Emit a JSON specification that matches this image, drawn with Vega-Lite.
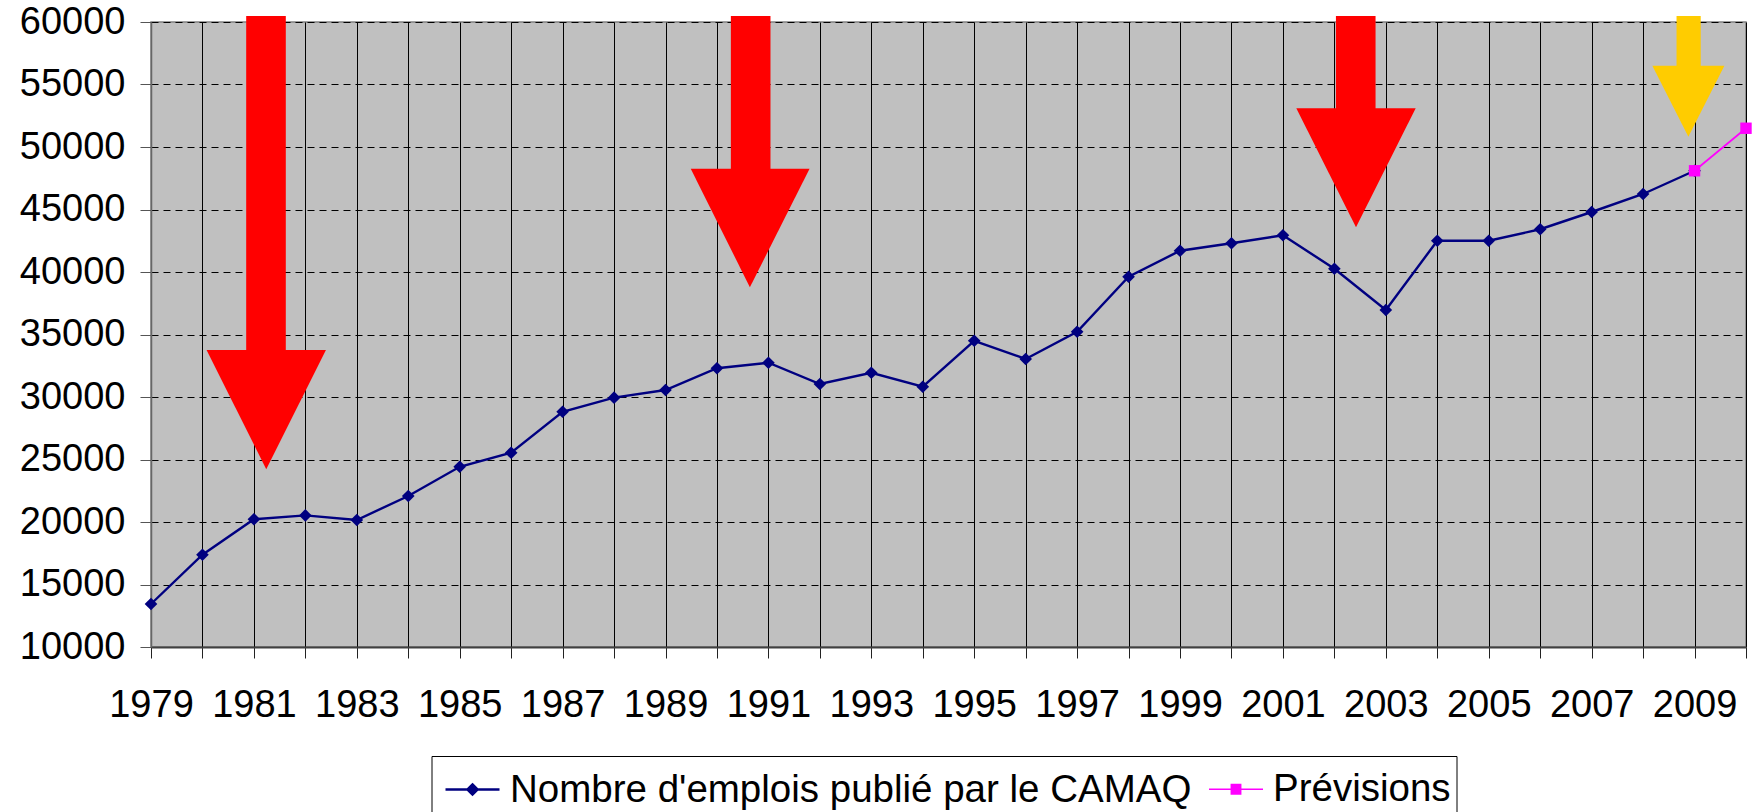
{
  "$schema": "https://vega.github.io/schema/vega-lite/v6.json",
  "width": 1595,
  "height": 625,
  "autosize": {"type": "none"},
  "padding": {"left": 151, "top": 22, "right": 7, "bottom": 165},
  "background": "#FFFFFF",
  "config": {
    "view": {"fill": "#C0C0C0", "stroke": "#808080", "strokeWidth": 1.5},
    "font": "Liberation Sans"
  },
  "datasets": {
    "emplois": [
      {"annee": 1979, "emplois": 13440, "serie": "Nombre d'emplois publié par le CAMAQ"},
      {"annee": 1980, "emplois": 17380, "serie": "Nombre d'emplois publié par le CAMAQ"},
      {"annee": 1981, "emplois": 20220, "serie": "Nombre d'emplois publié par le CAMAQ"},
      {"annee": 1982, "emplois": 20530, "serie": "Nombre d'emplois publié par le CAMAQ"},
      {"annee": 1983, "emplois": 20160, "serie": "Nombre d'emplois publié par le CAMAQ"},
      {"annee": 1984, "emplois": 22080, "serie": "Nombre d'emplois publié par le CAMAQ"},
      {"annee": 1985, "emplois": 24420, "serie": "Nombre d'emplois publié par le CAMAQ"},
      {"annee": 1986, "emplois": 25540, "serie": "Nombre d'emplois publié par le CAMAQ"},
      {"annee": 1987, "emplois": 28820, "serie": "Nombre d'emplois publié par le CAMAQ"},
      {"annee": 1988, "emplois": 29950, "serie": "Nombre d'emplois publié par le CAMAQ"},
      {"annee": 1989, "emplois": 30560, "serie": "Nombre d'emplois publié par le CAMAQ"},
      {"annee": 1990, "emplois": 32300, "serie": "Nombre d'emplois publié par le CAMAQ"},
      {"annee": 1991, "emplois": 32740, "serie": "Nombre d'emplois publié par le CAMAQ"},
      {"annee": 1992, "emplois": 31040, "serie": "Nombre d'emplois publié par le CAMAQ"},
      {"annee": 1993, "emplois": 31940, "serie": "Nombre d'emplois publié par le CAMAQ"},
      {"annee": 1994, "emplois": 30820, "serie": "Nombre d'emplois publié par le CAMAQ"},
      {"annee": 1995, "emplois": 34500, "serie": "Nombre d'emplois publié par le CAMAQ"},
      {"annee": 1996, "emplois": 33040, "serie": "Nombre d'emplois publié par le CAMAQ"},
      {"annee": 1997, "emplois": 35220, "serie": "Nombre d'emplois publié par le CAMAQ"},
      {"annee": 1998, "emplois": 39620, "serie": "Nombre d'emplois publié par le CAMAQ"},
      {"annee": 1999, "emplois": 41700, "serie": "Nombre d'emplois publié par le CAMAQ"},
      {"annee": 2000, "emplois": 42300, "serie": "Nombre d'emplois publié par le CAMAQ"},
      {"annee": 2001, "emplois": 42940, "serie": "Nombre d'emplois publié par le CAMAQ"},
      {"annee": 2002, "emplois": 40260, "serie": "Nombre d'emplois publié par le CAMAQ"},
      {"annee": 2003, "emplois": 36960, "serie": "Nombre d'emplois publié par le CAMAQ"},
      {"annee": 2004, "emplois": 42500, "serie": "Nombre d'emplois publié par le CAMAQ"},
      {"annee": 2005, "emplois": 42500, "serie": "Nombre d'emplois publié par le CAMAQ"},
      {"annee": 2006, "emplois": 43420, "serie": "Nombre d'emplois publié par le CAMAQ"},
      {"annee": 2007, "emplois": 44800, "serie": "Nombre d'emplois publié par le CAMAQ"},
      {"annee": 2008, "emplois": 46240, "serie": "Nombre d'emplois publié par le CAMAQ"},
      {"annee": 2009, "emplois": 48100, "serie": "Nombre d'emplois publié par le CAMAQ"},
      {"annee": 2009, "emplois": 48100, "serie": "Prévisions"},
      {"annee": 2010, "emplois": 51500, "serie": "Prévisions"}
    ],
    "fleches": [
      {"id": "a1", "type": "recession", "gauche": 1980.85, "droite": 1981.62, "haut": 60480, "bas": 33500},
      {"id": "a2", "type": "recession", "gauche": 1990.27, "droite": 1991.04, "haut": 60480, "bas": 48000},
      {"id": "a3", "type": "recession", "gauche": 2002.03, "droite": 2002.80, "haut": 60480, "bas": 52800},
      {"id": "a4", "type": "prevision", "gauche": 2008.65, "droite": 2009.12, "haut": 60480, "bas": 56300}
    ],
    "pointes": [
      {"id": "a1", "type": "recession", "annee": 1980.08, "haut": 33760, "bas": 33760},
      {"id": "a1", "type": "recession", "annee": 1981.24, "haut": 33760, "bas": 24220},
      {"id": "a1", "type": "recession", "annee": 1982.40, "haut": 33760, "bas": 33760},
      {"id": "a2", "type": "recession", "annee": 1989.49, "haut": 48260, "bas": 48260},
      {"id": "a2", "type": "recession", "annee": 1990.64, "haut": 48260, "bas": 38780},
      {"id": "a2", "type": "recession", "annee": 1991.80, "haut": 48260, "bas": 48260},
      {"id": "a3", "type": "recession", "annee": 2001.26, "haut": 53100, "bas": 53100},
      {"id": "a3", "type": "recession", "annee": 2002.42, "haut": 53100, "bas": 43580},
      {"id": "a3", "type": "recession", "annee": 2003.58, "haut": 53100, "bas": 53100},
      {"id": "a4", "type": "prevision", "annee": 2008.18, "haut": 56500, "bas": 56500},
      {"id": "a4", "type": "prevision", "annee": 2008.88, "haut": 56500, "bas": 50820},
      {"id": "a4", "type": "prevision", "annee": 2009.58, "haut": 56500, "bas": 56500}
    ]
  },
  "layer": [
    {
      "data": {"name": "fleches"},
      "mark": {"type": "rect"},
      "encoding": {
        "x": {"field": "gauche", "type": "quantitative", "title": null, "scale": {"domain": [1979, 2010], "nice": false, "zero": false}},
        "x2": {"field": "droite"},
        "y": {"field": "haut", "type": "quantitative", "title": null, "scale": {"domain": [10000, 60000], "nice": false, "zero": false}},
        "y2": {"field": "bas"},
        "fill": {"field": "type", "type": "nominal", "scale": {"domain": ["recession", "prevision"], "range": ["#FF0000", "#FFCC00"]}, "legend": null}
      }
    },
    {
      "data": {"name": "pointes"},
      "mark": {"type": "area", "orient": "vertical", "interpolate": "linear"},
      "encoding": {
        "x": {"field": "annee", "type": "quantitative", "title": null},
        "y": {"field": "haut", "type": "quantitative", "title": null},
        "y2": {"field": "bas"},
        "detail": {"field": "id", "type": "nominal"},
        "fill": {"field": "type", "type": "nominal", "legend": null}
      }
    },
    {
      "data": {"name": "emplois"},
      "mark": {"type": "line"},
      "encoding": {
        "x": {
          "field": "annee", "type": "quantitative", "title": null,
          "axis": {
            "title": null,
            "values": [1979, 1980, 1981, 1982, 1983, 1984, 1985, 1986, 1987, 1988, 1989, 1990, 1991, 1992, 1993, 1994, 1995, 1996, 1997, 1998, 1999, 2000, 2001, 2002, 2003, 2004, 2005, 2006, 2007, 2008, 2009, 2010],
            "format": "d",
            "labelExpr": "datum.value % 2 == 1 ? datum.label : ''",
            "labelOverlap": false, "labelFlush": false, "labelBound": false,
            "labelFont": "Liberation Sans", "labelFontSize": 38, "labelColor": "#000000",
            "labelPadding": 28,
            "tickSize": 11, "tickColor": "#222222", "tickWidth": 1,
            "domainColor": "#404040", "domainWidth": 2,
            "grid": true, "gridColor": "#000000", "gridWidth": 1, "gridOpacity": 1
          }
        },
        "y": {
          "field": "emplois", "type": "quantitative", "title": null,
          "axis": {
            "title": null,
            "values": [10000, 15000, 20000, 25000, 30000, 35000, 40000, 45000, 50000, 55000, 60000],
            "format": "d",
            "labelOverlap": false, "labelFlush": false, "labelBound": false,
            "labelFont": "Liberation Sans", "labelFontSize": 38, "labelColor": "#000000",
            "labelPadding": 15,
            "tickSize": 11, "tickColor": "#555555", "tickWidth": 1,
            "domainColor": "#666666", "domainWidth": 1.5,
            "grid": true, "gridColor": "#000000", "gridWidth": 1, "gridOpacity": 1, "gridDash": [7, 5]
          }
        },
        "color": {
          "field": "serie", "type": "nominal", "title": null,
          "scale": {"domain": ["Nombre d'emplois publié par le CAMAQ", "Prévisions"], "range": ["#000080", "#FF00FF"]},
          "legend": {
            "title": null,
            "orient": "none",
            "legendX": 280.5,
            "legendY": 734,
            "direction": "horizontal",
            "padding": 5,
            "fillColor": "#FFFFFF",
            "strokeColor": "#000000",
            "symbolSize": 2916,
            "symbolStrokeWidth": 2,
            "symbolOffset": 7.5,
            "labelOffset": 9,
            "columnPadding": 9,
            "labelFont": "Liberation Sans",
            "labelFontSize": 38.5,
            "labelColor": "#000000",
            "labelLimit": 2000,
            "encode": {
              "symbols": {
                "update": {
                  "shape": {"signal": "datum.value === 'Prévisions' ? 'M-1,0H1M-0.17,-0.17H0.17V0.17H-0.17Z' : 'M-1,0H1M0,-0.19L0.19,0L0,0.19L-0.19,0Z'"},
                  "fill": {"scale": "color", "field": "value"},
                  "stroke": {"scale": "color", "field": "value"},
                  "strokeWidth": {"value": 2},
                  "opacity": {"value": 1}
                }
              }
            }
          }
        },
        "strokeWidth": {"field": "serie", "type": "nominal", "scale": {"domain": ["Nombre d'emplois publié par le CAMAQ", "Prévisions"], "range": [2.4, 1.7]}, "legend": null}
      }
    },
    {
      "data": {"name": "emplois"},
      "transform": [{"filter": "datum.serie !== 'Prévisions'"}],
      "mark": {"type": "point", "filled": true, "opacity": 1, "size": 160, "shape": "diamond"},
      "encoding": {
        "x": {"field": "annee", "type": "quantitative", "title": null},
        "y": {"field": "emplois", "type": "quantitative", "title": null},
        "color": {"field": "serie", "type": "nominal", "title": null}
      }
    },
    {
      "data": {"name": "emplois"},
      "transform": [{"filter": "datum.serie === 'Prévisions'"}],
      "mark": {"type": "point", "filled": true, "opacity": 1, "size": 130, "shape": "square"},
      "encoding": {
        "x": {"field": "annee", "type": "quantitative", "title": null},
        "y": {"field": "emplois", "type": "quantitative", "title": null},
        "color": {"field": "serie", "type": "nominal", "title": null}
      }
    }
  ]
}
